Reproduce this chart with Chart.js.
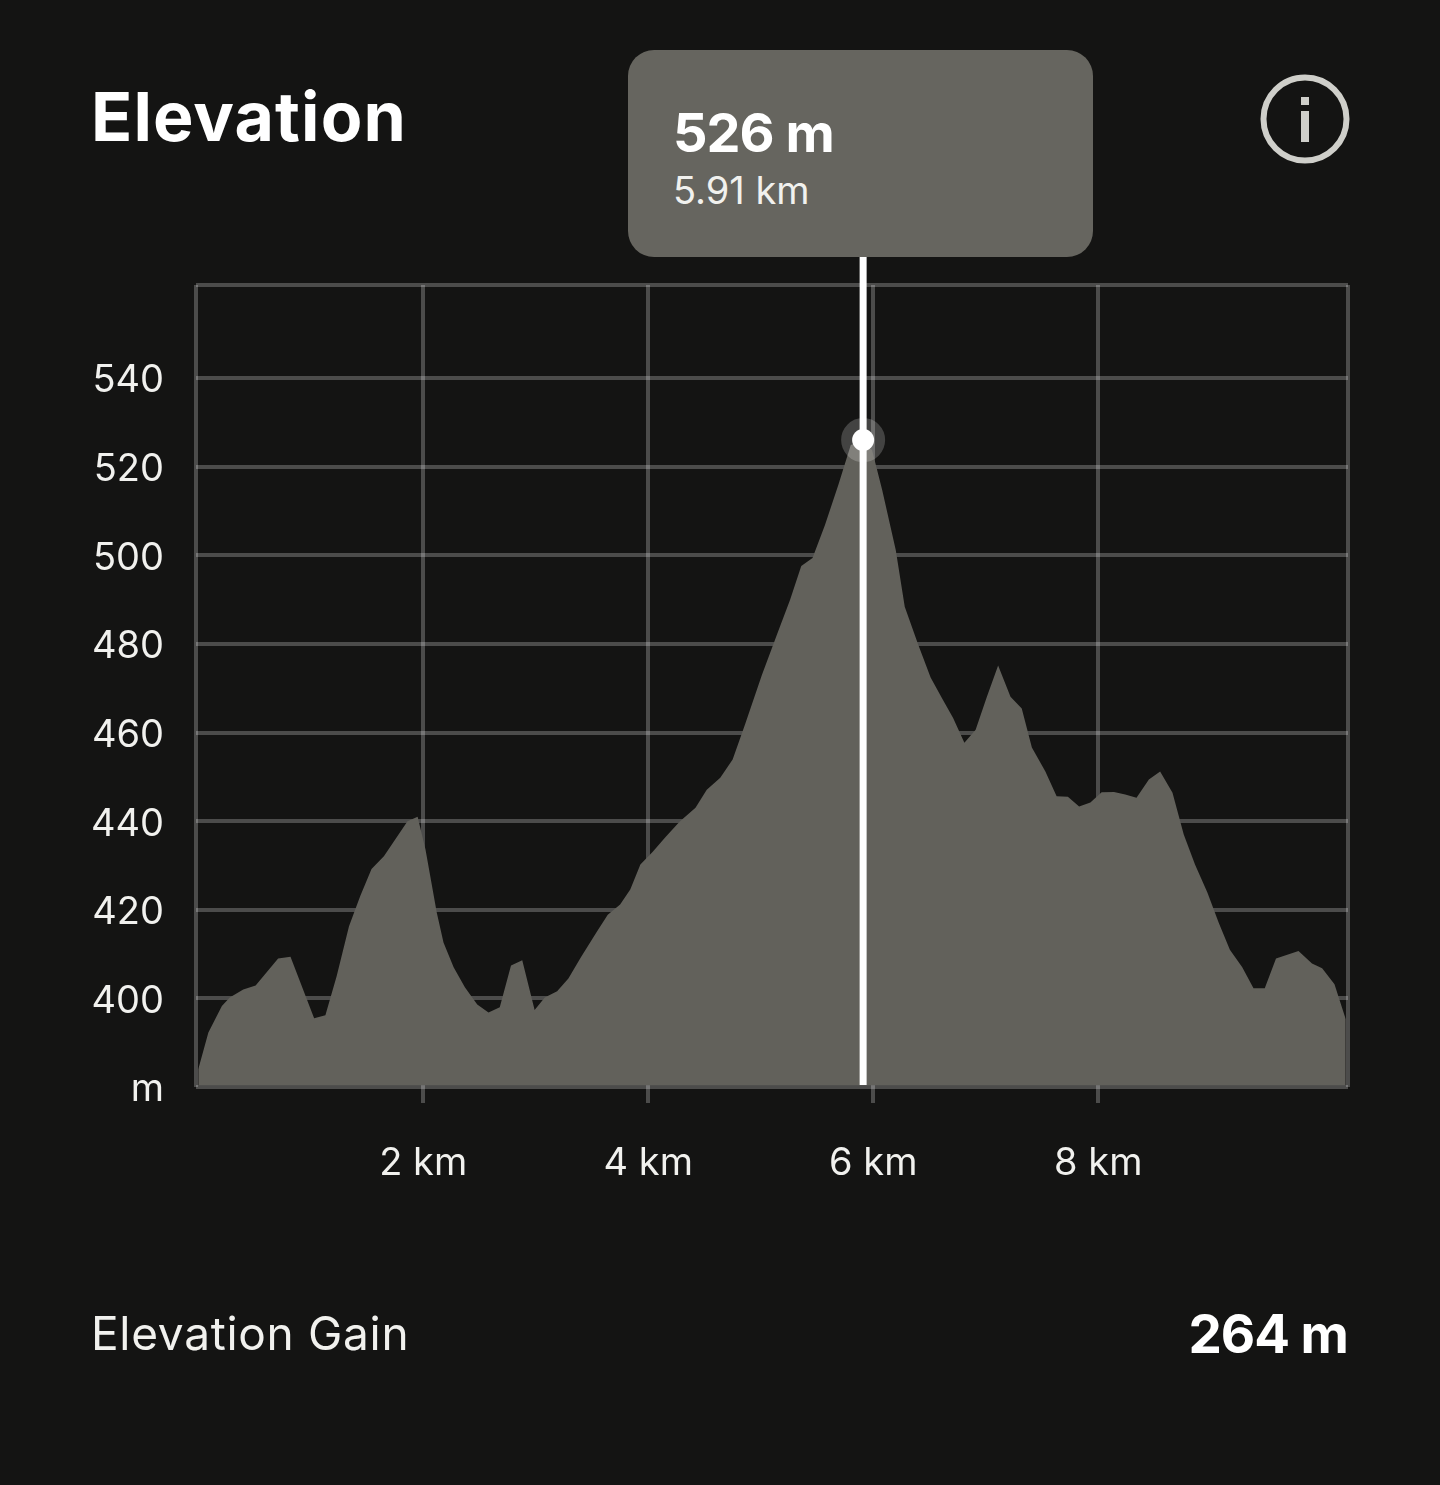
<!DOCTYPE html>
<html>
<head>
<meta charset="utf-8">
<title>Elevation</title>
<script src="https://cdn.jsdelivr.net/npm/chart.js@4"></script>
<style>
	html, body { margin: 0; padding: 0; background: #141413; }
	body { position: relative; width: 1440px; height: 1485px; overflow: hidden; font-family: Inter, sans-serif; color: #f1f1ee; }
	canvas { position: absolute; left: 0; top: 0; }
	.abs { position: absolute; white-space: nowrap; line-height: 1; }
	#title { left: 91px; top: 82px; font-size: 68px; font-weight: 700; color: #fff; letter-spacing: 1.1px; }
	#tipBox { left: 628px; top: 50px; width: 465px; height: 207px; background: #66655f; border-radius: 26px; }
	#tipValue { left: 673px; top: 106px; font-size: 54px; font-weight: 700; color: #fff; letter-spacing: -1px; }
	#tipDist { left: 673px; top: 171px; font-size: 38px; color: #f1f1ee; letter-spacing: 0; }
	#gainLabel { left: 91px; top: 1310px; font-size: 46px; letter-spacing: 0.7px; }
	#gainValue { right: 92px; top: 1308px; font-size: 53px; font-weight: 700; color: #fff; letter-spacing: -1px; }
	#info { left: 1260px; top: 74px; }
</style>
</head>
<body>
<canvas id="elevationC" width="1440" height="1485"></canvas>
<div class="abs" id="title">Elevation</div>
<div class="abs" id="tipBox"></div>
<div class="abs" id="tipValue"></div>
<div class="abs" id="tipDist"></div>
<svg class="abs" id="info" width="90" height="90" viewBox="0 0 90 90">
	<circle cx="45" cy="45" r="41.5" fill="none" stroke="#cfcfca" stroke-width="6"/>
	<rect x="41" y="23" width="8" height="8" fill="#cfcfca"/>
	<rect x="41" y="37" width="8" height="31" fill="#cfcfca"/>
</svg>
<div class="abs" id="gainLabel">Elevation Gain</div>
<div class="abs" id="gainValue"></div>
<script>
// elevation profile
const distanceKm = [
	0, 0.09, 0.21, 0.28, 0.40, 0.51, 0.71, 0.82, 1.03, 1.13,
	1.23, 1.34, 1.44, 1.54, 1.65, 1.86, 1.95, 2.02, 2.12, 2.18,
	2.27, 2.37, 2.48, 2.58, 2.68, 2.78, 2.88, 2.99, 3.08, 3.19,
	3.29, 3.40, 3.54, 3.64, 3.75, 3.84, 3.93, 4.04, 4.15, 4.28,
	4.42, 4.52, 4.64, 4.75, 4.86, 5.01, 5.15, 5.26, 5.36, 5.46,
	5.57, 5.69, 5.80, 5.91, 5.99, 6.08, 6.20, 6.28, 6.40, 6.51,
	6.61, 6.71, 6.81, 6.91, 7.01, 7.11, 7.22, 7.32, 7.41, 7.53,
	7.63, 7.73, 7.83, 7.93, 8.03, 8.14, 8.24, 8.34, 8.45, 8.55,
	8.66, 8.76, 8.86, 8.97, 9.07, 9.17, 9.28, 9.38, 9.48, 9.58,
	9.78, 9.90, 9.99, 10.10, 10.20
];
const elevationM = [
	384, 392.3, 398.3, 400.2, 402, 402.9, 409, 409.4, 395.5, 396.2,
	405, 416.3, 423.1, 429.2, 432.1, 440, 441, 433.6, 419.4, 412.6,
	407, 402.5, 398.6, 396.8, 398, 407.4, 408.6, 397.4, 400.2, 401.6,
	404.5, 409.2, 414.9, 418.9, 421.2, 424.6, 430.2, 433.1, 436.3, 439.9,
	443, 447.1, 449.8, 453.9, 461.8, 473, 482.5, 489.9, 497.6, 499.4,
	506.8, 515.9, 524.9, 526, 523.7, 514.7, 501.2, 488.4, 479.8, 472.4,
	467.8, 463.3, 457.7, 460.6, 468.1, 475.1, 468.1, 465.4, 456.6, 451.2,
	445.6, 445.5, 443.3, 444.2, 446.5, 446.6, 446, 445.3, 449.4, 451.2,
	446.4, 437, 430.2, 423.9, 417.1, 411, 407, 402.3, 402.3, 409,
	410.7, 407.9, 406.8, 403.2, 395.3
];
const yTickValues = [380, 400, 420, 440, 460, 480, 500, 520, 540, 561];
const xTickValues = [-0.02, 2, 4, 6, 8, 10.22];
const selectedKm = 5.91;
const selectedM = 526;
const elevationGainM = 264;

document.querySelector("#tipValue").innerText = selectedM + " m";
document.querySelector("#tipDist").innerText = selectedKm + " km";
document.querySelector("#gainValue").innerText = elevationGainM + " m";

const gridColor = "rgba(255,255,255,0.24)";
const textColor = "#f1f1ee";
const tickFont = { family: "Inter", size: 38, weight: "normal" };

// white cursor running from the tooltip box down to the axis
const cursorLine = {
	id: "cursorLine",
	afterDatasetsDraw(chart) {
		const { ctx, scales, chartArea } = chart;
		const x = scales.x.getPixelForValue(selectedKm);
		ctx.save();
		ctx.fillStyle = "#fff";
		ctx.fillRect(x - 3.5, 256, 7, chartArea.bottom - 258);
		ctx.restore();
	}
};

Chart.defaults.font.family = "Inter";
const elevationChart = new Chart(document.getElementById("elevationC"), {
	type: "line",
	data: {
		datasets: [{
			label: "selected",
			data: [{ x: selectedKm, y: selectedM }],
			showLine: false,
			pointRadius: 11,
			pointBorderWidth: 22,
			pointBackgroundColor: "#fff",
			pointBorderColor: "rgba(255,255,255,0.2)",
			clip: false,
			order: 0
		}, {
			label: "elevation",
			data: distanceKm.map((km, i) => ({ x: km, y: elevationM[i] })),
			fill: { value: 380.4 },
			backgroundColor: "#62615b",
			borderWidth: 0,
			pointRadius: 0,
			tension: 0,
			order: 1
		}]
	},
	options: {
		responsive: false,
		animation: false,
		events: [],
		layout: { padding: { top: 285, right: 92, left: 0, bottom: 0 } },
		plugins: { legend: { display: false }, tooltip: { enabled: false } },
		scales: {
			x: {
				type: "linear",
				min: -0.02,
				max: 10.22,
				afterBuildTicks: (scale) => { scale.ticks = xTickValues.map(value => ({ value })); },
				afterFit: (scale) => { scale.height = 398; },
				grid: {
					color: gridColor,
					lineWidth: 4,
					tickLength: 16,
					tickColor: (c) => (c.tick.value > 0 && c.tick.value < 10) ? gridColor : "transparent"
				},
				border: { display: false },
				ticks: {
					autoSkip: false,
					maxRotation: 0,
					padding: 38,
					color: textColor,
					font: tickFont,
					callback: (v) => (v > 0 && v < 10) ? v + " km" : ""
				}
			},
			y: {
				type: "linear",
				min: 380,
				max: 561,
				afterBuildTicks: (scale) => { scale.ticks = yTickValues.map(value => ({ value })); },
				afterFit: (scale) => { scale.width = 196; },
				grid: { color: gridColor, lineWidth: 4, drawTicks: false },
				border: { display: false },
				ticks: {
					autoSkip: false,
					padding: 32,
					color: textColor,
					// two-line label with a short line height drops the text 3px below its grid line
					font: { ...tickFont, lineHeight: "6px" },
					callback: (v) => ["", v === 380 ? "m" : (v === 561 ? "" : v)]
				}
			}
		}
	},
	plugins: [cursorLine]
});
</script>
</body>
</html>
